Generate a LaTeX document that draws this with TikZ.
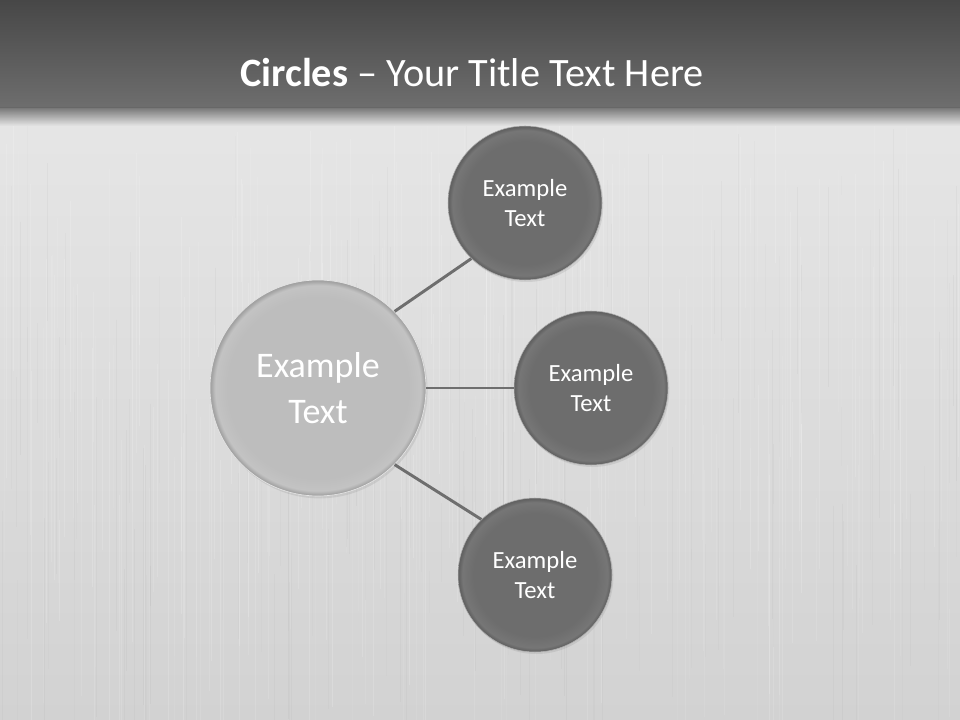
\documentclass[tikz,border=0pt]{standalone}
\usepackage{fontspec}
\setmainfont{Carlito}
\usetikzlibrary{shadows}
\definecolor{barTop}{HTML}{474747}
\definecolor{barBot}{HTML}{6E6E6E}
\definecolor{bgTop}{HTML}{E6E6E6}
\definecolor{bgBot}{HTML}{D2D2D2}
\definecolor{bigFill}{HTML}{BDBDBD}
\definecolor{bigNear}{HTML}{C3C3C3}
\definecolor{bigEdge}{HTML}{A2A2A2}
\definecolor{smallFill}{HTML}{6D6D6D}
\definecolor{smallNear}{HTML}{767676}
\definecolor{smallEdge}{HTML}{626262}
\definecolor{linkCol}{HTML}{6E6E6E}
\pgfdeclareradialshading{bigball}{\pgfpoint{0bp}{0bp}}{color(0bp)=(bigFill); color(21bp)=(bigFill); color(23.8bp)=(bigNear); color(24.8bp)=(bigEdge); color(25bp)=(bigEdge); color(50bp)=(bigEdge)}
\pgfdeclareradialshading{smallball}{\pgfpoint{0bp}{0bp}}{color(0bp)=(smallFill); color(20bp)=(smallFill); color(23.6bp)=(smallNear); color(24.7bp)=(smallEdge); color(25bp)=(smallEdge); color(50bp)=(smallEdge)}
\tikzset{
  bigcircle/.style={circle, minimum size=162pt, inner sep=0pt,
    shading=bigball, draw=white!80!gray, line width=0.5pt,
    text=white, align=center, font=\fontsize{27}{34}\selectfont,
    drop shadow={shadow xshift=1.2pt, shadow yshift=-1.8pt, opacity=0.18}},
  smallcircle/.style={circle, minimum size=115.5pt, inner sep=0pt,
    shading=smallball, draw=gray!60, line width=0.4pt,
    text=white, align=center, font=\fontsize{18.5}{22.5}\selectfont,
    drop shadow={shadow xshift=1pt, shadow yshift=-1.5pt, opacity=0.18}},
  link/.style={draw=linkCol, line width=2.2pt}
}
\begin{document}
\begin{tikzpicture}[x=0.75pt,y=-0.75pt]
\useasboundingbox (0,0) rectangle (960,720);
% background
\shade[top color=bgTop, bottom color=bgBot] (0,108) rectangle (960,720);
% brushed texture
\pgfmathsetseed{7}
\foreach \i in {1,...,260}{
  \pgfmathsetmacro{\xx}{rnd*960}
  \pgfmathsetmacro{\op}{0.05+rnd*0.12}
  \pgfmathsetmacro{\yy}{108+rnd*400}
  \pgfmathsetmacro{\ll}{100+rnd*300}
  \draw[white, line width=0.5pt, opacity=\op] (\xx,\yy) -- (\xx,{min(720,\yy+\ll)});
}
\foreach \i in {1,...,140}{
  \pgfmathsetmacro{\xx}{rnd*960}
  \pgfmathsetmacro{\op}{0.02+rnd*0.05}
  \pgfmathsetmacro{\yy}{108+rnd*500}
  \pgfmathsetmacro{\ll}{80+rnd*250}
  \draw[gray, line width=0.4pt, opacity=\op] (\xx,\yy) -- (\xx,{min(720,\yy+\ll)});
}
% title bar
\shade[top color=barTop, bottom color=barBot] (0,0) rectangle (960,108);
\shade[top color=barBot, bottom color=bgTop, opacity=0.9] (0,108) rectangle (960,126);
\node[text=white, font=\fontsize{30.2}{35}\selectfont, anchor=base] (title) at (472,87)
  {\textbf{Circles} – Your Title Text Here};
% circles
\node[bigcircle] (c) at (318,388) {Example\\Text};
\node[smallcircle] (t) at (525,203) {Example\\Text};
\node[smallcircle] (m) at (591,388) {Example\\Text};
\node[smallcircle] (b) at (535,575) {Example\\Text};
% links
\path[link] (c.45) -- (t.226);
\path[link] (c.east) -- (m.west);
\path[link] (c.-45) -- (b.134);
\end{tikzpicture}
\end{document}
